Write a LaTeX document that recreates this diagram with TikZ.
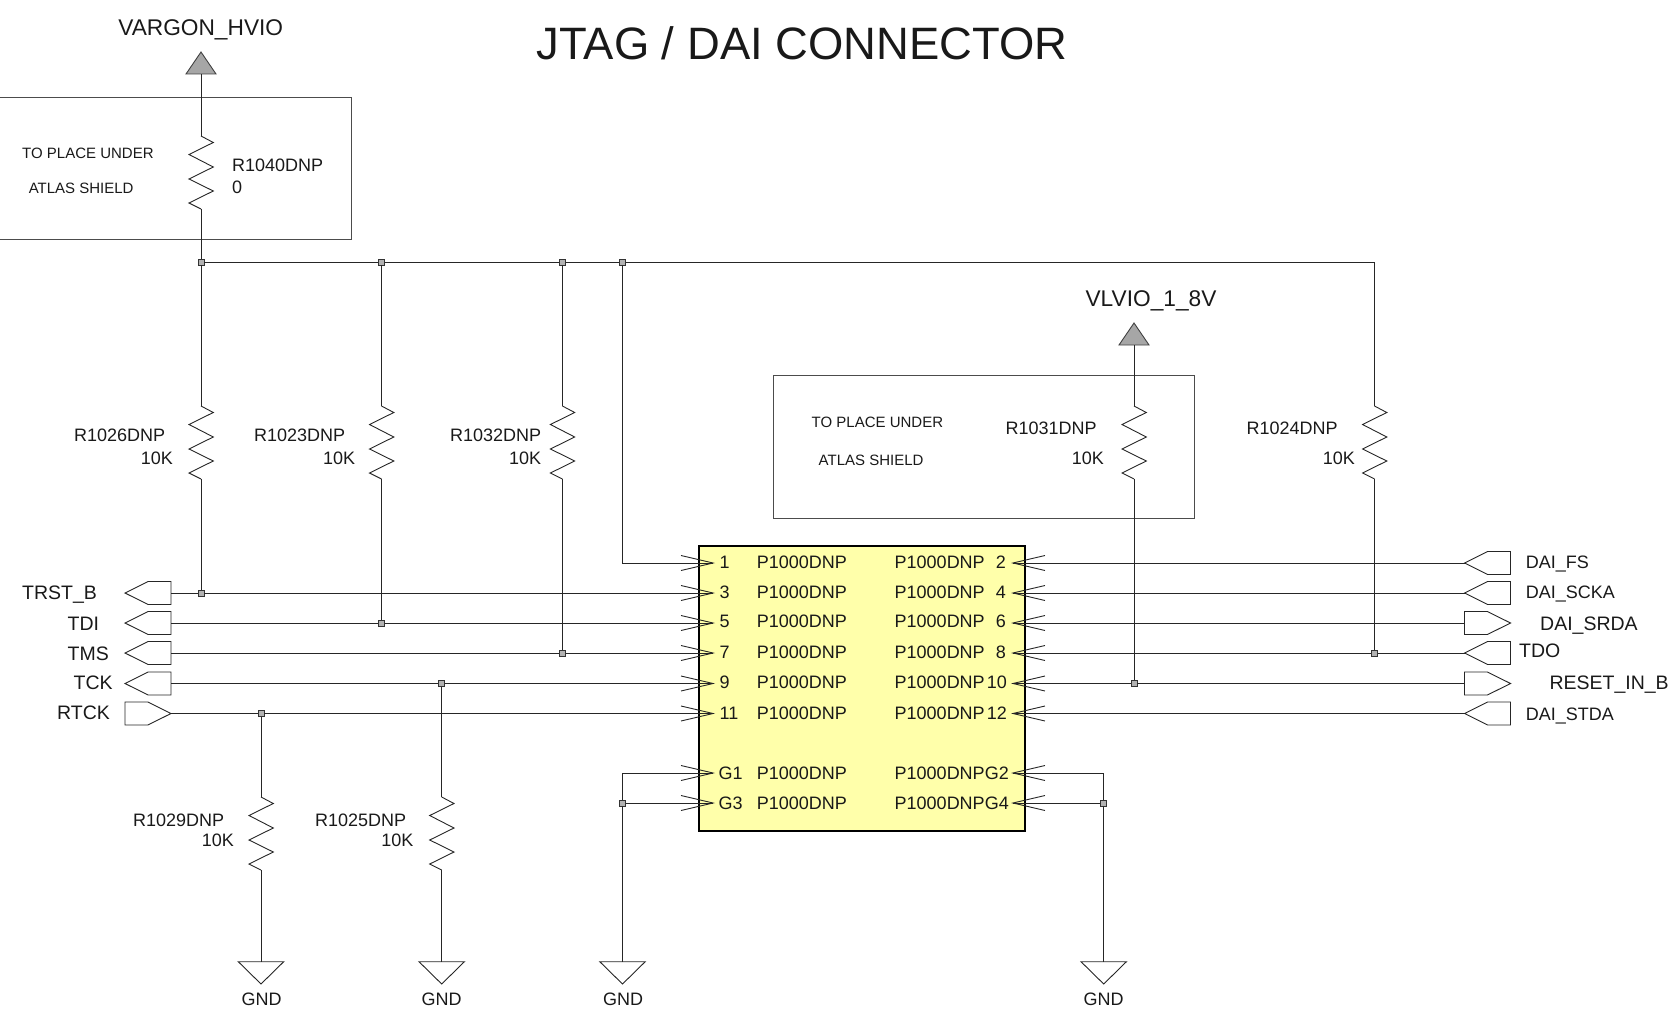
\documentclass[tikz,border=0pt]{standalone}
\usepackage{fontspec}
\setmainfont{Liberation Sans}
\usetikzlibrary{arrows.meta,shapes.symbols}
\definecolor{chipfill}{RGB}{255,255,170}

\begin{document}
\begin{tikzpicture}[x=1pt, y=-1pt,
	wire/.style = {draw=black!85, line width=0.9pt},
	pin/.style = {wire, -{Straight Barb[length=32pt,width=15pt]}},
	shield/.style = {draw=black!70, line width=0.9pt},
	jun/.style = {draw=black!80, fill=black!30, rectangle, line width=0.8pt, minimum size=6pt, inner sep=0pt},
	chip/.style = {draw=black, fill=chipfill, rectangle, line width=2.6pt, inner sep=0pt},
	portl/.style = {draw=black!85, line width=0.9pt, signal, signal to=west, signal pointer angle=53, minimum width=46pt, minimum height=23pt, inner sep=0pt, outer sep=0pt, anchor=east},
	portr/.style = {portl, signal to=east},
	txt/.style = {inner sep=0pt, anchor=base west, text=black!90, font=\fontsize{18}{20}\selectfont},
	txtr/.style = {txt, anchor=base east},
	txtc/.style = {txt, anchor=base},
	sig/.style = {txt, font=\fontsize{19.5}{21}\selectfont},
	note/.style = {txt, font=\fontsize{15}{17}\selectfont},
	rail/.style = {txtc, font=\fontsize{22.7}{25}\selectfont},
	res/.pic = {\coordinate (-a) at (0,0); \coordinate (-b) at (0,73);
		\draw[wire] (-a) -- (12.3,6.5) -- (-12,18.5) -- (12.3,31) -- (-12,43) -- (12.3,55) -- (-12,67) -- (-b);},
	pwr/.pic = {\coordinate (-a) at (0,22);
		\draw[draw=black!75, fill=black!35, line width=0.9pt] (0,0) -- (15,22) -- (-15,22) -- cycle;},
	gnd/.pic = {\coordinate (-a) at (0,0);
		\draw[wire] (-22.7,0) -- (22.7,0) -- (0,22.3) -- cycle;}]
	\useasboundingbox (0,0) rectangle (1672,1011);

	% title and shield boxes
	\node[txtc, font=\fontsize{45.4}{47}\selectfont] (title) at (802,60) {JTAG / DAI CONNECTOR};
	\draw[shield] (-2,97) rectangle (351.5,239.5);
	\draw[shield] (773,375) rectangle (1194,518);
	\node[note] (n1) at (22,158.5) {TO PLACE UNDER};
	\node[note] (n2) at (28.6,193.5) {ATLAS SHIELD};
	\node[note] (n3) at (811.5,427.7) {TO PLACE UNDER};
	\node[note] (n4) at (818.5,465.7) {ATLAS SHIELD};

	% connector
	\node[chip, minimum width=326pt, minimum height=285pt] (conn) at (862,688.5) {};
	\coordinate (p1) at (715,563);
	\coordinate (p3) at (715,593);
	\coordinate (p5) at (715,623);
	\coordinate (p7) at (715,653);
	\coordinate (p9) at (715,683.5);
	\coordinate (p11) at (715,713.5);
	\coordinate (pg1) at (715,773);
	\coordinate (pg3) at (715,803);
	\coordinate (p2) at (1011,563);
	\coordinate (p4) at (1011,593);
	\coordinate (p6) at (1011,623);
	\coordinate (p8) at (1011,653);
	\coordinate (p10) at (1011,683.5);
	\coordinate (p12) at (1011,713.5);
	\coordinate (pg2) at (1011,773);
	\coordinate (pg4) at (1011,803);

	\node[txt] (t1) at (719.5,568) {1};
	\node[txt] (t3) at (719.5,598.7) {3};
	\node[txt] (t5) at (719.5,627) {5};
	\node[txt] (t7) at (719.5,658) {7};
	\node[txt] (t9) at (719.5,688.7) {9};
	\node[txt] (t11) at (719.5,719.5) {11};
	\node[txt] (tg1) at (718.5,779) {G1};
	\node[txt] (tg3) at (718.5,809) {G3};
	\node[txtr] (t2) at (1006,568) {2};
	\node[txtr] (t4) at (1006,598.7) {4};
	\node[txtr] (t6) at (1006,627) {6};
	\node[txtr] (t8) at (1006,658) {8};
	\node[txtr] (t10) at (1007,688.7) {10};
	\node[txtr] (t12) at (1007,719.5) {12};
	\node[txtr] (tg2) at (1009,779) {G2};
	\node[txtr] (tg4) at (1009,809) {G4};

	\node[txt] (a1) at (756.6,568) {P1000DNP};
	\node[txt] (a3) at (756.6,598.7) {P1000DNP};
	\node[txt] (a5) at (756.6,627) {P1000DNP};
	\node[txt] (a7) at (756.6,658) {P1000DNP};
	\node[txt] (a9) at (756.6,688.7) {P1000DNP};
	\node[txt] (a11) at (756.6,719.5) {P1000DNP};
	\node[txt] (ag1) at (756.6,779) {P1000DNP};
	\node[txt] (ag3) at (756.6,809) {P1000DNP};
	\node[txt] (a2) at (894.5,568) {P1000DNP};
	\node[txt] (a4) at (894.5,598.7) {P1000DNP};
	\node[txt] (a6) at (894.5,627) {P1000DNP};
	\node[txt] (a8) at (894.5,658) {P1000DNP};
	\node[txt] (a10) at (894.5,688.7) {P1000DNP};
	\node[txt] (a12) at (894.5,719.5) {P1000DNP};
	\node[txt] (ag2) at (894.5,779) {P1000DNP};
	\node[txt] (ag4) at (894.5,809) {P1000DNP};

	% off page ports
	\node[portl] (trst) at (171,593) {};
	\node[portl] (tdi) at (171,623) {};
	\node[portl] (tms) at (171,653) {};
	\node[portl] (tck) at (171,683.5) {};
	\node[portr] (rtck) at (171,713.5) {};
	\node[portl, anchor=west] (fs) at (1464.5,563) {};
	\node[portl, anchor=west] (scka) at (1464.5,593) {};
	\node[portr, anchor=west] (srda) at (1464.5,623) {};
	\node[portl, anchor=west] (tdo) at (1464.5,653) {};
	\node[portr, anchor=west] (rst) at (1464.5,683.5) {};
	\node[portl, anchor=west] (stda) at (1464.5,713.5) {};

	\node[sig] (ltrst) at (22,599.3) {TRST\_B};
	\node[sig] (ltdi) at (67.5,630) {TDI};
	\node[sig] (ltms) at (67.5,660) {TMS};
	\node[sig] (ltck) at (73.5,689) {TCK};
	\node[sig] (lrtck) at (57,719) {RTCK};
	\node[txt] (lfs) at (1525.7,568.3) {DAI\_FS};
	\node[txt] (lscka) at (1525.7,598.7) {DAI\_SCKA};
	\node[sig] (lsrda) at (1540,630) {DAI\_SRDA};
	\node[sig] (ltdo) at (1519,657.7) {TDO};
	\node[sig] (lrst) at (1549.3,689) {RESET\_IN\_B};
	\node[txt] (lstda) at (1525.7,720) {DAI\_STDA};

	% supplies, grounds
	\pic (vh) at (201,52) {pwr};
	\pic (vl) at (1134,323) {pwr};
	\node[rail] (lvh) at (200.7,36) {VARGON\_HVIO};
	\node[rail] (lvl) at (1151,306) {VLVIO\_1\_8V};
	\pic (g1) at (261,961.7) {gnd};
	\pic (g2) at (441.7,961.7) {gnd};
	\pic (g3) at (622.5,961.7) {gnd};
	\pic (g4) at (1103.7,961.7) {gnd};
	\node[txtc] (lg1) at (261.5,1005.7) {GND};
	\node[txtc] (lg2) at (441.7,1005.7) {GND};
	\node[txtc] (lg3) at (623,1005.7) {GND};
	\node[txtc] (lg4) at (1103.7,1005.7) {GND};

	% resistors
	\pic (r1040) at (201,136) {res};
	\pic (r1026) at (201,406) {res};
	\pic (r1023) at (381.5,406) {res};
	\pic (r1032) at (562.4,406) {res};
	\pic (r1031) at (1134,406) {res};
	\pic (r1024) at (1374.5,406) {res};
	\pic (r1029) at (261,797) {res};
	\pic (r1025) at (441.7,797) {res};

	\node[txt] (l1040) at (232,171.7) {R1040DNP};
	\node[txt] (v1040) at (232,193.5) {0};
	\node[txt] (l1026) at (74,441) {R1026DNP};
	\node[txtr] (v1026) at (173,464) {10K};
	\node[txt] (l1023) at (253.9,441) {R1023DNP};
	\node[txtr] (v1023) at (355.4,464) {10K};
	\node[txt] (l1032) at (449.8,441) {R1032DNP};
	\node[txtr] (v1032) at (541.4,464) {10K};
	\node[txt] (l1031) at (1005.4,434) {R1031DNP};
	\node[txtr] (v1031) at (1104,464) {10K};
	\node[txt] (l1024) at (1246.5,434) {R1024DNP};
	\node[txtr] (v1024) at (1355,464) {10K};
	\node[txt] (l1029) at (133,826) {R1029DNP};
	\node[txtr] (v1029) at (234,846.7) {10K};
	\node[txt] (l1025) at (315,826) {R1025DNP};
	\node[txtr] (v1025) at (413.7,846.7) {10K};

	% junctions
	\node[jun] (j1) at (201,262) {};
	\node[jun] (j2) at (381.5,262) {};
	\node[jun] (j3) at (562.4,262) {};
	\node[jun] (j4) at (622.5,262) {};
	\node[jun] (j5) at (201,593) {};
	\node[jun] (j6) at (381.5,623) {};
	\node[jun] (j7) at (562.4,653) {};
	\node[jun] (j8) at (1374.5,653) {};
	\node[jun] (j9) at (1134,683.5) {};
	\node[jun] (j10) at (441.7,683.5) {};
	\node[jun] (j11) at (261,713.5) {};
	\node[jun] (j12) at (622.5,803) {};
	\node[jun] (j13) at (1103.7,803) {};

	% nets
	\draw[wire] (vh-a) -- (r1040-a);
	\draw[wire] (r1040-b) -- (j1);
	\draw[wire] (j1) -- (j2);
	\draw[wire] (j2) -- (j3);
	\draw[wire] (j3) -- (j4);
	\draw[wire] (j4) -| (r1024-a);
	\draw[wire] (j1) -- (r1026-a);
	\draw[wire] (j2) -- (r1023-a);
	\draw[wire] (j3) -- (r1032-a);
	\draw[wire] (r1026-b) -- (j5);
	\draw[wire] (r1023-b) -- (j6);
	\draw[wire] (r1032-b) -- (j7);
	\draw[wire] (r1024-b) -- (j8);
	\draw[wire] (vl-a) -- (r1031-a);
	\draw[wire] (r1031-b) -- (j9);
	\draw[wire] (j10) -- (r1025-a);
	\draw[wire] (r1025-b) -- (g2-a);
	\draw[wire] (j11) -- (r1029-a);
	\draw[wire] (r1029-b) -- (g1-a);

	\draw[pin] (j4) |- (p1);
	\draw[wire] (trst.east) -- (j5);
	\draw[pin] (j5) -- (p3);
	\draw[wire] (tdi.east) -- (j6);
	\draw[pin] (j6) -- (p5);
	\draw[wire] (tms.east) -- (j7);
	\draw[pin] (j7) -- (p7);
	\draw[wire] (tck.east) -- (j10);
	\draw[pin] (j10) -- (p9);
	\draw[wire] (rtck.east) -- (j11);
	\draw[pin] (j11) -- (p11);
	\draw[pin] (fs.west) -- (p2);
	\draw[pin] (scka.west) -- (p4);
	\draw[pin] (srda.west) -- (p6);
	\draw[wire] (tdo.west) -- (j8);
	\draw[pin] (j8) -- (p8);
	\draw[wire] (rst.west) -- (j9);
	\draw[pin] (j9) -- (p10);
	\draw[pin] (stda.west) -- (p12);

	\draw[pin] (j12) |- (pg1);
	\draw[pin] (j12) -- (pg3);
	\draw[wire] (j12) -- (g3-a);
	\draw[pin] (j13) |- (pg2);
	\draw[pin] (j13) -- (pg4);
	\draw[wire] (j13) -- (g4-a);
\end{tikzpicture}
\end{document}
